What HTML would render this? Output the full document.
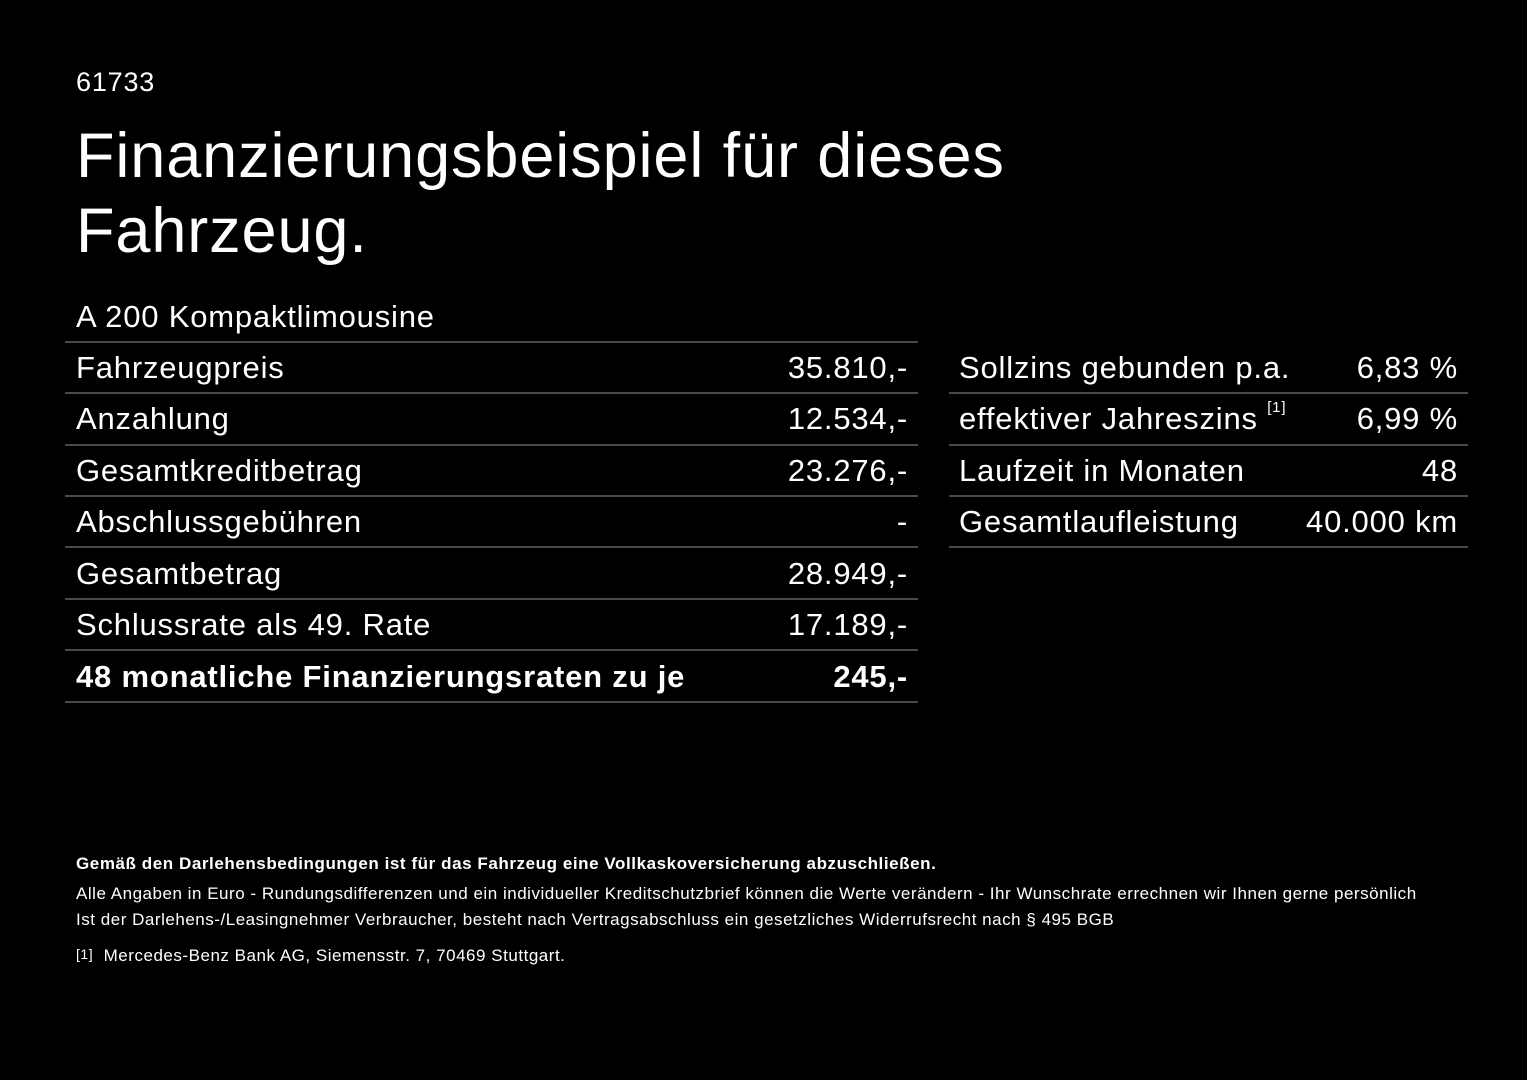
<!DOCTYPE html>
<html><head><meta charset="utf-8"><style>
body{margin:0;width:1527px;height:1080px;background:#000;color:#fff;font-family:"Liberation Sans",sans-serif;position:relative;overflow:hidden}
.a{position:absolute;white-space:nowrap}
.ln{position:absolute;height:2px;background:#4a4a4a}
.r{position:absolute;font-size:31px;line-height:51px;white-space:nowrap;letter-spacing:0.8px}
.f{position:absolute;font-size:17px;white-space:nowrap;left:76px;letter-spacing:0.52px}
</style></head><body>
<div class="a" style="left:76px;top:67px;font-size:27px;letter-spacing:0.8px">61733</div>
<div class="a" style="left:76px;top:119px;font-size:63px;line-height:75px;letter-spacing:0.9px">Finanzierungsbeispiel für dieses<br>Fahrzeug.</div>
<div class="a" style="left:76px;top:299px;font-size:31px;letter-spacing:0.8px">A 200 Kompaktlimousine</div>

<div class="ln" style="left:65px;width:853px;top:341px"></div>
<div class="ln" style="left:65px;width:853px;top:392px"></div>
<div class="ln" style="left:65px;width:853px;top:444px"></div>
<div class="ln" style="left:65px;width:853px;top:495px"></div>
<div class="ln" style="left:65px;width:853px;top:546px"></div>
<div class="ln" style="left:65px;width:853px;top:598px"></div>
<div class="ln" style="left:65px;width:853px;top:649px"></div>
<div class="ln" style="left:65px;width:853px;top:701px"></div>

<div class="r" style="left:76px;top:342px">Fahrzeugpreis</div><div class="r" style="right:619px;top:342px">35.810,-</div>
<div class="r" style="left:76px;top:393px">Anzahlung</div><div class="r" style="right:619px;top:393px">12.534,-</div>
<div class="r" style="left:76px;top:445px">Gesamtkreditbetrag</div><div class="r" style="right:619px;top:445px">23.276,-</div>
<div class="r" style="left:76px;top:496px">Abschlussgebühren</div><div class="r" style="right:619px;top:496px">-</div>
<div class="r" style="left:76px;top:548px">Gesamtbetrag</div><div class="r" style="right:619px;top:548px">28.949,-</div>
<div class="r" style="left:76px;top:599px">Schlussrate als 49. Rate</div><div class="r" style="right:619px;top:599px">17.189,-</div>
<div class="r" style="left:76px;top:651px;font-weight:bold">48 monatliche Finanzierungsraten zu je</div><div class="r" style="right:619px;top:651px;font-weight:bold">245,-</div>

<div class="ln" style="left:949px;width:519px;top:392px"></div>
<div class="ln" style="left:949px;width:519px;top:444px"></div>
<div class="ln" style="left:949px;width:519px;top:495px"></div>
<div class="ln" style="left:949px;width:519px;top:546px"></div>
<div class="r" style="left:959px;top:342px">Sollzins gebunden p.a.</div><div class="r" style="right:69px;top:342px">6,83 %</div>
<div class="r" style="left:959px;top:393px">effektiver Jahreszins <sup style="font-size:15px;vertical-align:top;line-height:30px">[1]</sup></div><div class="r" style="right:69px;top:393px">6,99 %</div>
<div class="r" style="left:959px;top:445px">Laufzeit in Monaten</div><div class="r" style="right:69px;top:445px">48</div>
<div class="r" style="left:959px;top:496px">Gesamtlaufleistung</div><div class="r" style="right:69px;top:496px">40.000 km</div>

<div class="f" style="top:854px;font-weight:bold;letter-spacing:0.57px">Gemäß den Darlehensbedingungen ist für das Fahrzeug eine Vollkaskoversicherung abzuschließen.</div>
<div class="f" style="top:884px">Alle Angaben in Euro - Rundungsdifferenzen und ein individueller Kreditschutzbrief können die Werte verändern - Ihr Wunschrate errechnen wir Ihnen gerne persönlich</div>
<div class="f" style="top:910px">Ist der Darlehens-/Leasingnehmer Verbraucher, besteht nach Vertragsabschluss ein gesetzliches Widerrufsrecht nach § 495 BGB</div>
<div class="f" style="top:946px"><span style="font-size:14px;vertical-align:top">[1]</span>&nbsp; Mercedes-Benz Bank AG, Siemensstr. 7, 70469 Stuttgart.</div>
</body></html>
